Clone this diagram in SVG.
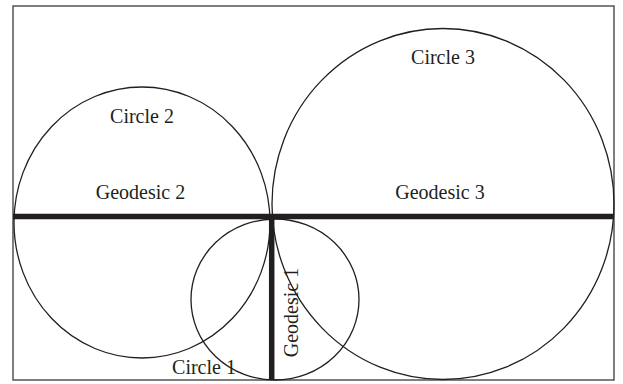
<svg xmlns="http://www.w3.org/2000/svg" width="623" height="384" viewBox="0 0 623 384">
<style>
.c{fill:none;stroke:#231f20;stroke-width:1.3}
.g{stroke:#231f20;stroke-width:5.5;stroke-linecap:butt}
.t{font-family:"Liberation Serif","Times New Roman",serif;font-size:20px;fill:#231f20;text-anchor:middle}
</style>
<rect x="0" y="0" width="623" height="384" fill="#fff"/>
<rect x="13" y="6" width="601" height="374" fill="none" stroke="#555" stroke-width="1.5"/>
<g id="circle2"><ellipse class="c" cx="142" cy="222.5" rx="128" ry="135.5"/><text class="t" x="142" y="123">Circle 2</text></g>
<g id="circle3"><ellipse class="c" cx="443" cy="204" rx="171" ry="175.5"/><text class="t" x="443" y="64">Circle 3</text></g>
<g id="circle1"><ellipse class="c" cx="275" cy="299.5" rx="84" ry="80.5"/><text class="t" x="204" y="374">Circle 1</text></g>
<g id="connectors">
<line class="g" x1="13" y1="216.5" x2="614" y2="216.5"/>
<line class="g" x1="271.7" y1="216.5" x2="271.7" y2="380"/>
</g>
<g id="geodesic2"><text class="t" x="140.5" y="199">Geodesic 2</text></g>
<g id="geodesic3"><text class="t" x="440" y="199">Geodesic 3</text></g>
<g id="geodesic1"><text class="t" transform="translate(298 312.5) rotate(-90)">Geodesic 1</text></g>
</svg>
